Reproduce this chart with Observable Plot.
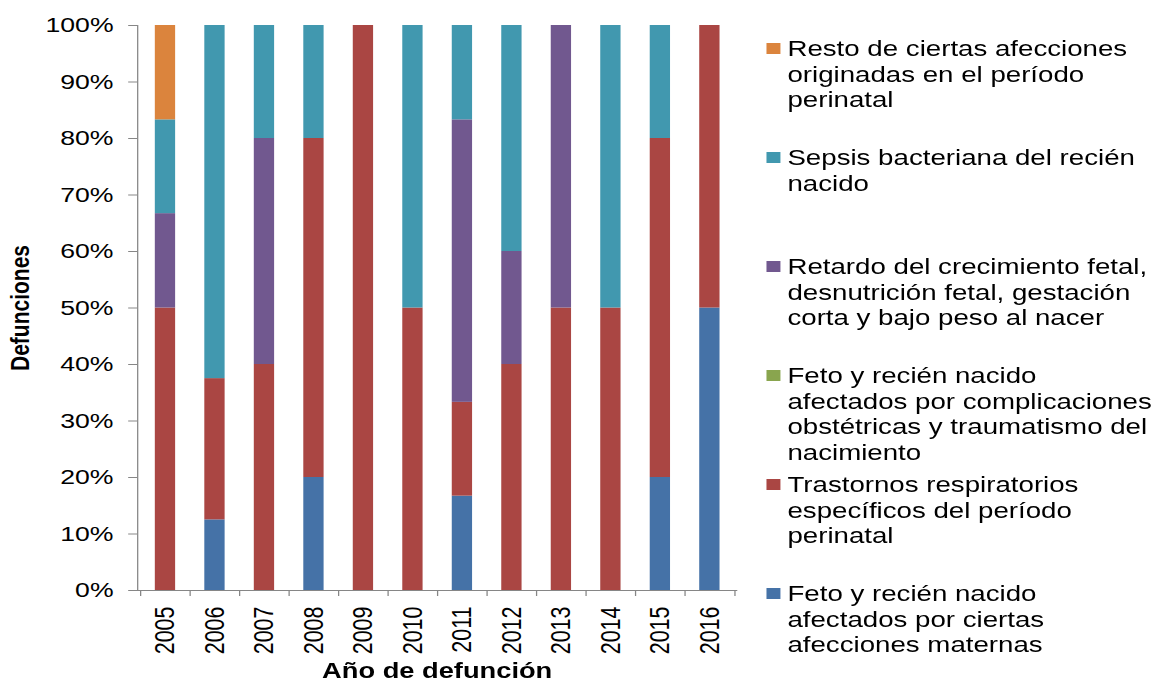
<!DOCTYPE html>
<html><head><meta charset="utf-8">
<script src="https://cdn.jsdelivr.net/npm/d3@7"></script>
<script src="https://cdn.jsdelivr.net/npm/@observablehq/plot@0.6"></script>
<style>
html,body{margin:0;padding:0;background:#fff;overflow:hidden;}
#wrap{position:relative;width:910px;height:681px;transform:scaleX(1.269);transform-origin:0 0;font-family:"Liberation Sans",Arial,sans-serif;}
#chart{position:absolute;left:0;top:0;}
.leg{position:absolute;left:604px;font-size:21.8px;line-height:25.7px;white-space:pre;color:#000;}
.leg .sw{position:absolute;left:0;top:7px;width:10.5px;height:11.3px;}
.leg .tx{position:absolute;left:16.5px;top:0;}
</style></head><body><div id="wrap"><div id="chart"></div><div id="legend"></div></div>
<script>
const years = ["2005","2006","2007","2008","2009","2010","2011","2012","2013","2014","2015","2016"];
const seriesNames = [
  "Feto y recién nacido afectados por ciertas afecciones maternas",
  "Trastornos respiratorios específicos del período perinatal",
  "Feto y recién nacido afectados por complicaciones obstétricas y traumatismo del nacimiento",
  "Retardo del crecimiento fetal, desnutrición fetal, gestación corta y bajo peso al nacer",
  "Sepsis bacteriana del recién nacido",
  "Resto de ciertas afecciones originadas en el período perinatal"
];
const legendLabels = [
  "Feto y recién nacido\nafectados por ciertas\nafecciones maternas",
  "Trastornos respiratorios\nespecíficos del período\nperinatal",
  "Feto y recién nacido\nafectados por complicaciones\nobstétricas y traumatismo del\nnacimiento",
  "Retardo del crecimiento fetal,\ndesnutrición fetal, gestación\ncorta y bajo peso al nacer",
  "Sepsis bacteriana del recién\nnacido",
  "Resto de ciertas afecciones\noriginadas en el período\nperinatal"
];
const seriesColors = ["#4572A7","#AA4643","#89A54E","#71588F","#4198AF","#DB843D"];
// percent of deaths per year
const maternas       = [0, 12.5, 0, 20, 0, 0, 16.7, 0, 0, 0, 20, 50];
const respiratorios  = [50, 25, 40, 60, 100, 50, 16.6, 40, 50, 50, 60, 50];
const complicaciones = [0, 0, 0, 0, 0, 0, 0, 0, 0, 0, 0, 0];
const retardo        = [16.7, 0, 40, 0, 0, 0, 50, 20, 50, 0, 0, 0];
const sepsis         = [16.6, 62.5, 20, 20, 0, 50, 16.7, 40, 0, 50, 20, 0];
const resto          = [16.7, 0, 0, 0, 0, 0, 0, 0, 0, 0, 0, 0];
const yTicks = [0,10,20,30,40,50,60,70,80,90,100];

const seriesValues = [maternas, respiratorios, complicaciones, retardo, sepsis, resto];
const table = [];
seriesNames.forEach((s, i) => years.forEach((y, j) => table.push({year: y, series: s, value: seriesValues[i][j]})));

const W = 600, mL = 108, mR = 20, mT = 25, mB = 91, H = 681;
const bw = (W - mL - mR) / years.length;
const pxPerUnit = (H - mT - mB) / 100;
const axisGray = "#868686";

const chart = Plot.plot({
  width: W, height: H,
  marginLeft: mL, marginRight: mR, marginTop: mT, marginBottom: mB,
  style: {fontFamily: "'Liberation Sans', Arial, sans-serif", fontSize: "21px", color: "#000", background: "#fff", overflow: "visible"},
  x: {domain: years, paddingInner: 0.6, paddingOuter: 0.3, label: null, axis: null},
  y: {domain: [0, 100], label: null, axis: null},
  color: {domain: seriesNames, range: seriesColors},
  marks: [
    Plot.barY(table, {x: "year", y: "value", fill: "series"}),
    Plot.frame({anchor: "left", stroke: axisGray}),
    Plot.frame({anchor: "bottom", stroke: axisGray}),
    Plot.axisY({ticks: yTicks, tickFormat: d => d + "%", tickSize: 7, tickPadding: 12, stroke: axisGray, fill: "#000", label: null}),
    Plot.axisX({tickRotate: -90, tickSize: 0, tickPadding: 16, fill: "#000", label: null, fontSize: 21.5}),
    Plot.ruleX(years, {x: d => d, y1: 0, y2: -6 / pxPerUnit, dx: -bw / 2, stroke: axisGray}),
    Plot.ruleX(years.slice(-1), {x: d => d, y1: 0, y2: -6 / pxPerUnit, dx: bw / 2, stroke: axisGray}),
    Plot.text(["Defunciones"], {frameAnchor: "left", dx: -92, rotate: -90, textAnchor: "middle", fontWeight: "bold", fontSize: 21, lineAnchor: "middle", fill: "#000"}),
    Plot.text(["Año de defunción"], {frameAnchor: "bottom", dy: 81, textAnchor: "middle", fontWeight: "bold", fontSize: 21.5, lineAnchor: "middle", fill: "#000"})
  ]
});
document.getElementById("chart").appendChild(chart);

// legend (top to bottom = reverse stacking order)
const legendTops = [581, 472, 363, 254, 145, 36];
const legend = document.getElementById("legend");
seriesNames.forEach((s, i) => {
  const d = document.createElement("div");
  d.className = "leg";
  d.style.top = legendTops[i] + "px";
  const sw = document.createElement("div");
  sw.className = "sw";
  sw.style.background = seriesColors[i];
  const tx = document.createElement("div");
  tx.className = "tx";
  tx.textContent = legendLabels[i];
  d.appendChild(sw); d.appendChild(tx);
  legend.appendChild(d);
});
</script>
</body></html>
